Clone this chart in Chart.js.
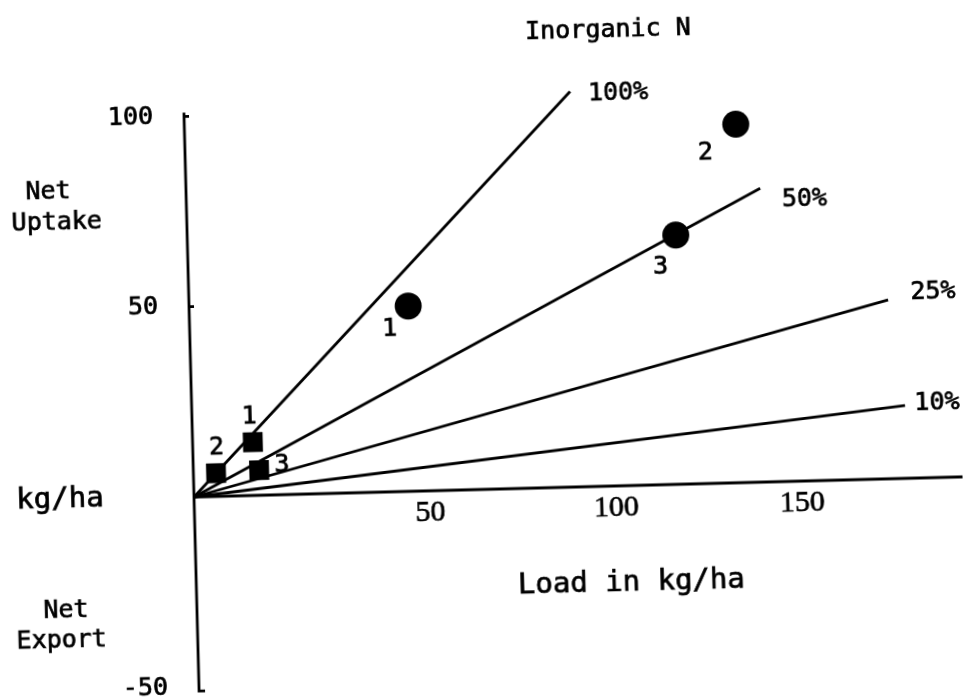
<!DOCTYPE html>
<html>
<head>
<meta charset="utf-8">
<script src="https://cdn.jsdelivr.net/npm/chart.js@4.4.1/dist/chart.umd.min.js"></script>
<style>
  html, body { margin: 0; padding: 0; background: #fff; overflow: hidden; }
  /* the sheet sits a little crooked, turn it round the origin */
  #plot { display: block; transform-origin: 194px 497px; transform: rotate(-1.5deg); }
</style>
</head>
<body>
<canvas id="plot" width="963" height="699"></canvas>
<script>
// share of the load taken up, one reference line each
let pctLines = [100, 50, 25, 10];
let lineEnds = [103.9, 154.3, 187.9, 191.7];   // load where each line stops

// inorganic N, round markers
let circleLoad = [58.9, 148.2, 131.3];
let circleUptake = [48.7, 94.2, 65.5];
let circleNames = ["1", "2", "3"];

// square markers
let squareLoad = [16.2, 6.1, 17.7];
let squareUptake = [14.0, 6.1, 6.6];
let squareNames = ["1", "2", "3"];

let xTicks = [50, 100, 150];
let yTicks = [100, 50, -50];

// where the small labels sit, px from their mark
let circleTag = [[-19, 23], [-31, 28], [-16, 32]];
let squareTag = [[-3, -25], [1, -25], [23, -4]];
let pctTag = [[48, 3], [44, 12], [45, -7], [32, -2]];

// free text, px from the origin, font size
let notes = [
  ["Inorganic N", 426, -455, 25],
  ["Load in kg/ha", 435, 97, 29],
  ["Net", -138, -308, 25],
  ["Uptake", -130, -277, 25],
  ["kg/ha", -134, -1, 29],
  ["Net", -131, 111, 25],
  ["Export", -136, 141, 25]
];

const mono = "25px 'DejaVu Sans Mono'";
const serif = "30px 'Liberation Serif'";

let lineSets = pctLines.map((p, i) => ({
  data: [{x: 0, y: 0}, {x: lineEnds[i], y: lineEnds[i] * p / 100}],
  showLine: true,
  borderColor: "#000",
  borderWidth: 2.8,
  pointRadius: 0,
  clip: false
}));

// typed text, a touch heavier than the plain face
function ink(ctx, t, px, py) {
  ctx.fillText(t, px, py);
  ctx.strokeText(t, px, py);
}

let drawing = {
  id: "drawing",
  beforeDatasetsDraw(chart) {
    const {ctx, chartArea, scales: {x, y}} = chart;
    const ox = x.getPixelForValue(0), oy = y.getPixelForValue(0);
    ctx.save();
    ctx.strokeStyle = "#000";
    ctx.lineWidth = 2.8;
    ctx.beginPath();
    ctx.moveTo(ox, chartArea.top);
    ctx.lineTo(ox, chartArea.bottom);
    ctx.lineTo(ox + 6, chartArea.bottom);
    ctx.moveTo(ox, oy);
    ctx.lineTo(chartArea.right, oy);
    yTicks.forEach(v => {
      if (v > 0) {
        let py = y.getPixelForValue(v);
        ctx.moveTo(ox, py);
        ctx.lineTo(ox + 5, py);
      }
    });
    ctx.stroke();
    ctx.restore();
  },
  afterDatasetsDraw(chart) {
    const {ctx, scales: {x, y}} = chart;
    const ox = x.getPixelForValue(0), oy = y.getPixelForValue(0);
    ctx.save();
    ctx.fillStyle = "#000";
    ctx.strokeStyle = "#000";
    ctx.lineWidth = 0.7;
    ctx.textBaseline = "middle";

    ctx.font = serif;
    ctx.textAlign = "center";
    xTicks.forEach(v => ink(ctx, String(v), x.getPixelForValue(v) + 50, oy + 22));

    ctx.font = mono;
    ctx.textAlign = "right";
    yTicks.forEach(v => ink(ctx, String(v), ox - 31, y.getPixelForValue(v)));

    ctx.textAlign = "center";
    pctLines.forEach((p, i) => {
      let px = x.getPixelForValue(lineEnds[i]);
      let py = y.getPixelForValue(lineEnds[i] * p / 100);
      ink(ctx, p + "%", px + pctTag[i][0], py + pctTag[i][1]);
    });
    circleNames.forEach((n, i) => {
      ink(ctx, n, x.getPixelForValue(circleLoad[i]) + circleTag[i][0],
                  y.getPixelForValue(circleUptake[i]) + circleTag[i][1]);
    });
    squareNames.forEach((n, i) => {
      ink(ctx, n, x.getPixelForValue(squareLoad[i]) + squareTag[i][0],
                  y.getPixelForValue(squareUptake[i]) + squareTag[i][1]);
    });
    notes.forEach(([t, dx, dy, size]) => {
      ctx.font = size + "px 'DejaVu Sans Mono'";
      ink(ctx, t, ox + dx, oy + dy);
    });
    ctx.restore();
  }
};

let chartt = new Chart(document.getElementById("plot"), {
  type: "scatter",
  data: {
    datasets: [
      ...lineSets,
      {
        data: circleLoad.map((v, i) => ({x: v, y: circleUptake[i]})),
        pointStyle: "circle",
        pointRadius: 13.5,
        backgroundColor: "#000",
        borderColor: "#000",
        borderWidth: 0,
        clip: false
      },
      {
        data: squareLoad.map((v, i) => ({x: v, y: squareUptake[i]})),
        pointStyle: "rect",
        pointRadius: 14,
        backgroundColor: "#000",
        borderColor: "#000",
        borderWidth: 0,
        clip: false
      }
    ]
  },
  options: {
    responsive: false,
    devicePixelRatio: 1,
    animation: false,
    events: [],
    layout: { autoPadding: false, padding: { left: 194, right: 0, top: 112.6, bottom: 7.9 } },
    scales: {
      x: { type: "linear", display: false, min: 0, max: 206.7 },
      y: { type: "linear", display: false, min: -51, max: 101 }
    },
    plugins: {
      legend: { display: false },
      tooltip: { enabled: false }
    }
  },
  plugins: [drawing]
});
</script>
</body>
</html>
